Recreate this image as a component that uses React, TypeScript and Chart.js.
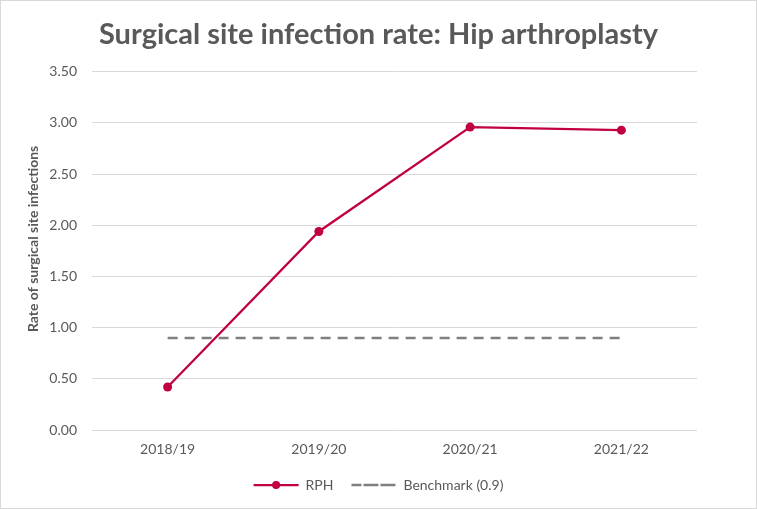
import React, { useEffect, useRef } from "react";
import { Chart, registerables } from "chart.js";

Chart.register(...registerables);

const titleText = "Surgical site infection rate: Hip arthroplasty";
const yAxisTitle = "Rate of surgical site infections";
const categories = ["2018/19", "2019/20", "2020/21", "2021/22"];
const rphValues = [0.42, 1.94, 2.96, 2.93];
const benchmarkValues = [0.9, 0.9, 0.9, 0.9];
const seriesNames = ["RPH", "Benchmark (0.9)"];
const yMin = 0;
const yMax = 3.5;
const yStep = 0.5;

const FONT = "Lato, 'Open Sans', sans-serif";
const TEXT = "#595959";
const RED = "#C00040";
const GREY = "#7F7F7F";

const framePlugin = {
  id: "frame",
  afterLayout(chart: any) {
    // centre the title and legend over the whole chart, as Excel does
    if (chart.titleBlock) {
      chart.titleBlock.left = 0;
      chart.titleBlock.right = chart.width;
    }
    if (chart.legend) {
      chart.legend.left = 0;
      chart.legend.right = chart.width;
    }
  },
  beforeDraw(chart: any) {
    const { ctx, width, height } = chart;
    ctx.save();
    ctx.fillStyle = "#ffffff";
    ctx.fillRect(0, 0, width, height);
    ctx.restore();
  },
  afterDraw(chart: any) {
    const { ctx, width, height } = chart;
    ctx.save();
    ctx.strokeStyle = "#d9d9d9";
    ctx.lineWidth = 1;
    ctx.strokeRect(0.5, 0.5, width - 1, height - 1);
    // y-axis title (Excel places it slightly above the plot centre)
    ctx.save();
    ctx.translate(33, chart.chartArea.top + (chart.chartArea.bottom - chart.chartArea.top) / 2 - 12);
    ctx.rotate(-Math.PI / 2);
    ctx.fillStyle = TEXT;
    ctx.font = `bold 14px ${FONT}`;
    ctx.textAlign = "center";
    ctx.textBaseline = "middle";
    ctx.fillText(yAxisTitle, 0, 0);
    ctx.restore();
    // marker dot in the RPH legend line
    const boxes = chart.legend && chart.legend.legendHitBoxes;
    if (boxes && boxes[0]) {
      const b = boxes[0];
      const bw = chart.legend.options.labels.boxWidth;
      const fs = chart.legend.options.labels.font.size;
      ctx.fillStyle = RED;
      ctx.beginPath();
      ctx.arc(b.left + bw / 2, b.top + fs / 2, 4, 0, Math.PI * 2);
      ctx.fill();
    }
    ctx.restore();
  },
};

export default function App() {
  const ref = useRef<HTMLCanvasElement | null>(null);
  useEffect(() => {
    document.body.style.margin = "0";
    const chart = new Chart(ref.current as HTMLCanvasElement, {
      type: "line",
      data: {
        labels: categories,
        datasets: [
          {
            label: seriesNames[0],
            data: rphValues,
            borderColor: RED,
            backgroundColor: RED,
            borderWidth: 2.25,
            pointRadius: 4.5,
            pointBackgroundColor: RED,
            pointBorderColor: RED,
            pointBorderWidth: 0,
            tension: 0,
          },
          {
            label: seriesNames[1],
            data: benchmarkValues,
            borderColor: GREY,
            backgroundColor: GREY,
            borderWidth: 2.5,
            borderDash: [10, 7],
            pointRadius: 0,
            tension: 0,
          },
        ],
      },
      options: {
        animation: false,
        responsive: false,
        maintainAspectRatio: false,
        layout: { padding: { left: 20, right: 60, top: 0, bottom: 7 } },
        plugins: {
          title: {
            display: true,
            text: titleText,
            color: TEXT,
            font: { family: FONT, size: 29, weight: "bold" },
            padding: { top: 17, bottom: 20 },
          },
          legend: {
            position: "bottom",
            labels: {
              boxWidth: 45,
              boxHeight: 0,
              color: TEXT,
              font: { family: FONT, size: 14 },
              padding: 18,
            },
          },
          tooltip: { enabled: false },
        },
        scales: {
          x: {
            offset: true,
            grid: { display: false, drawTicks: false },
            border: { display: false },
            ticks: { color: TEXT, font: { family: FONT, size: 14 }, padding: 11 },
            afterFit(scale: any) {
              scale.height = 30;
            },
          },
          y: {
            min: yMin,
            max: yMax,
            grid: { color: "#d9d9d9", drawTicks: false, lineWidth: 1 },
            border: { display: false },
            ticks: {
              stepSize: yStep,
              color: TEXT,
              font: { family: FONT, size: 14 },
              padding: 15,
              callback: (v: any) => Number(v).toFixed(2),
            },
            afterFit(scale: any) {
              scale.width = 72;
            },
          },
        },
      },
      plugins: [framePlugin],
    });
    return () => chart.destroy();
  }, []);
  return (
    <div style={{ width: 757, height: 509 }}>
      <canvas ref={ref} width={757} height={509} style={{ display: "block" }} />
    </div>
  );
}
